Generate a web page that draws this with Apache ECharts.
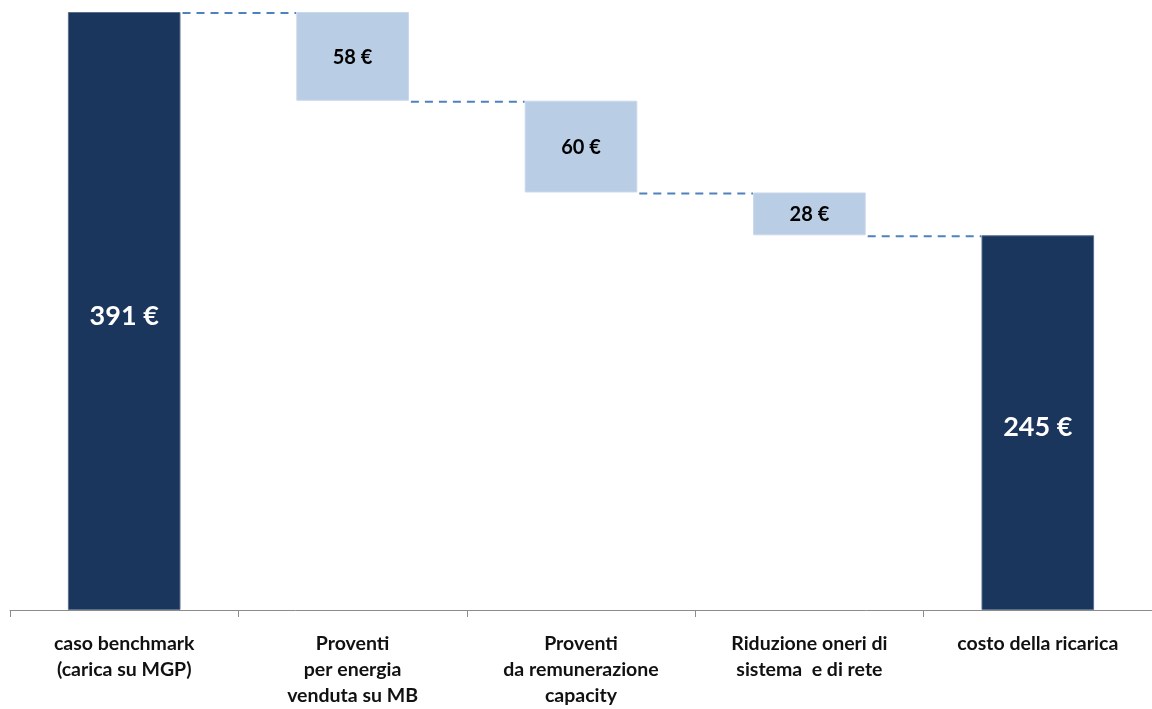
<!DOCTYPE html>
<html>
<head>
<meta charset="utf-8">
<script src="https://cdn.jsdelivr.net/npm/echarts@6/dist/echarts.min.js"></script>
<style>
html,body{margin:0;padding:0;background:#fff;}
#chart{width:1152px;height:709px;}
</style>
</head>
<body>
<div id="chart"></div>
<script>
const categories = [
  "caso benchmark\n(carica su MGP)",
  "Proventi\nper energia\nvenduta su MB",
  "Proventi\nda remunerazione\ncapacity",
  "Riduzione oneri di\nsistema  e di rete",
  "costo della ricarica"
];
const startValue = 391;
const stepValues = [58, 60, 28];
const endValue = 245;
const labelTexts = ["391 €", "58 €", "60 €", "28 €", "245 €"];

const darkColor = "#1A365D";
const lightColor = "#B9CDE5";

// build waterfall from data
const visible = [startValue].concat(stepValues, [endValue]);
const base = [0];
let run = startValue;
const levels = [startValue];
stepValues.forEach(v => { run -= v; base.push(run); levels.push(run); });
base.push(0);

const chart = echarts.init(document.getElementById('chart'));
const font = 'Lato, "Open Sans", sans-serif';

chart.setOption({
  animation: false,
  grid: { left: 10, top: 12, width: 1145, height: 603, containLabel: false },
  xAxis: {
    type: 'category',
    data: categories,
    boundaryGap: true,
    axisLine: { lineStyle: { color: '#8c8c8c', width: 1 } },
    axisTick: { show: true, length: 7, lineStyle: { color: '#8c8c8c' } },
    axisLabel: {
      interval: 0, margin: 21, color: '#111', fontFamily: font, fontWeight: 'bold',
      fontSize: 19.5, lineHeight: 26, align: 'center'
    }
  },
  yAxis: { type: 'value', min: 0, max: 391, show: false, splitLine: { show: false } },
  series: [
    {
      type: 'bar', stack: 'w', barWidth: '49.3%', silent: true,
      itemStyle: { color: 'transparent' },
      data: base
    },
    {
      type: 'bar', stack: 'w', barWidth: '49.3%',
      data: visible.map((v, i) => {
        const dark = (i === 0 || i === visible.length - 1);
        return {
          value: v,
          itemStyle: {
            color: dark ? darkColor : lightColor,
            borderColor: dark ? '#5a6f8c' : '#c9d8ec',
            borderWidth: 1
          },
          label: {
            show: true, position: 'inside', formatter: labelTexts[i],
            color: dark ? '#fff' : '#000',
            fontFamily: font, fontWeight: 'bold',
            fontSize: dark ? 27 : 20,
            offset: dark ? [0, 5] : [0, 1]
          }
        };
      })
    },
    {
      type: 'custom',
      silent: true,
      data: levels.map((l, i) => [i, l]),
      renderItem: function (params, api) {
        const i = api.value(0);
        const lvl = api.value(1);
        const p = api.coord([i, lvl]);
        const band = api.size([1, 0])[0];
        const bw = band * 0.493;
        return {
          type: 'line',
          shape: { x1: p[0] + bw / 2 + 2, y1: p[1] + 1, x2: p[0] + band - bw / 2, y2: p[1] + 1 },
          style: { stroke: '#4F81BD', lineWidth: 2, lineDash: [8, 6] }
        };
      }
    }
  ]
});
</script>
</body>
</html>
